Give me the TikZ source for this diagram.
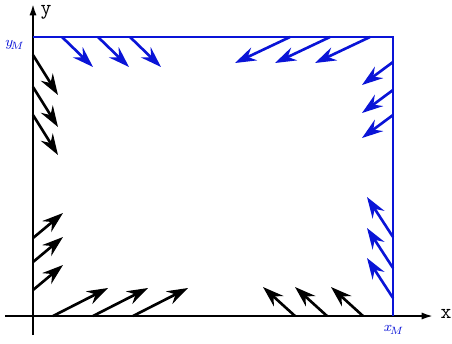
\documentclass[tikz,border=0pt]{standalone}
\usepackage{fontspec}
\usepackage{xcolor}
\usepackage{tikz}
\usetikzlibrary{arrows.meta,positioning,calc}
\definecolor{limitblue}{RGB}{10,20,215}

\begin{document}
\begin{tikzpicture}[
  x=0.02cm, y=-0.02cm,
  axis/.style={line width=1.5pt, -{Latex[length=7pt,width=4pt]}},
  frame/.style={line width=1.5pt, limitblue},
  vec/.style={line width=1.5pt, -{Stealth[length=12pt,width=8pt,inset=4pt]}},
  lbl/.style={font=\ttfamily\large, inner sep=0pt},
  lim/.style={font=\footnotesize, text=limitblue, inner sep=0pt}
]
\useasboundingbox (0,0) rectangle (452,343);
% axes
\draw[axis] (33,335) -- (33,3);
\draw[axis] (5,316) -- (434,316);
\node[lbl] (ylab) at (46,12) {y};
\node[lbl] (xlab) at (446,314) {x};
% limits of the working area
\draw[frame] (33,37) -- (393,37) -- (393,316);
\node[lim] (ym) at (15,45) {$y_{\!M}$};
\node[lim] (xm) at (394,330) {$x_{\!M}$};
% blue vectors on the limits
\foreach \a in {62,98,130}
  \draw[vec, limitblue] (\a,37) -- ++(31,30);
\foreach \a in {290,330,370}
  \draw[vec, limitblue] (\a,37) -- ++(-55,26);
\foreach \b in {62,90,115}
  \draw[vec, limitblue] (393,\b) -- ++(-31,23);
\foreach \b in {237,268,298}
  \draw[vec, limitblue] (393,\b) -- ++(-26,-40);
% black vectors on the axes
\foreach \b in {55,87,115}
  \draw[vec] (33,\b) -- ++(25,40);
\foreach \b in {238,262,290}
  \draw[vec] (33,\b) -- ++(30,-25);
\foreach \a in {53,93,133}
  \draw[vec] (\a,316) -- ++(55,-28);
\foreach \a in {295,327,363}
  \draw[vec] (\a,316) -- ++(-32,-29);
\end{tikzpicture}
\end{document}
